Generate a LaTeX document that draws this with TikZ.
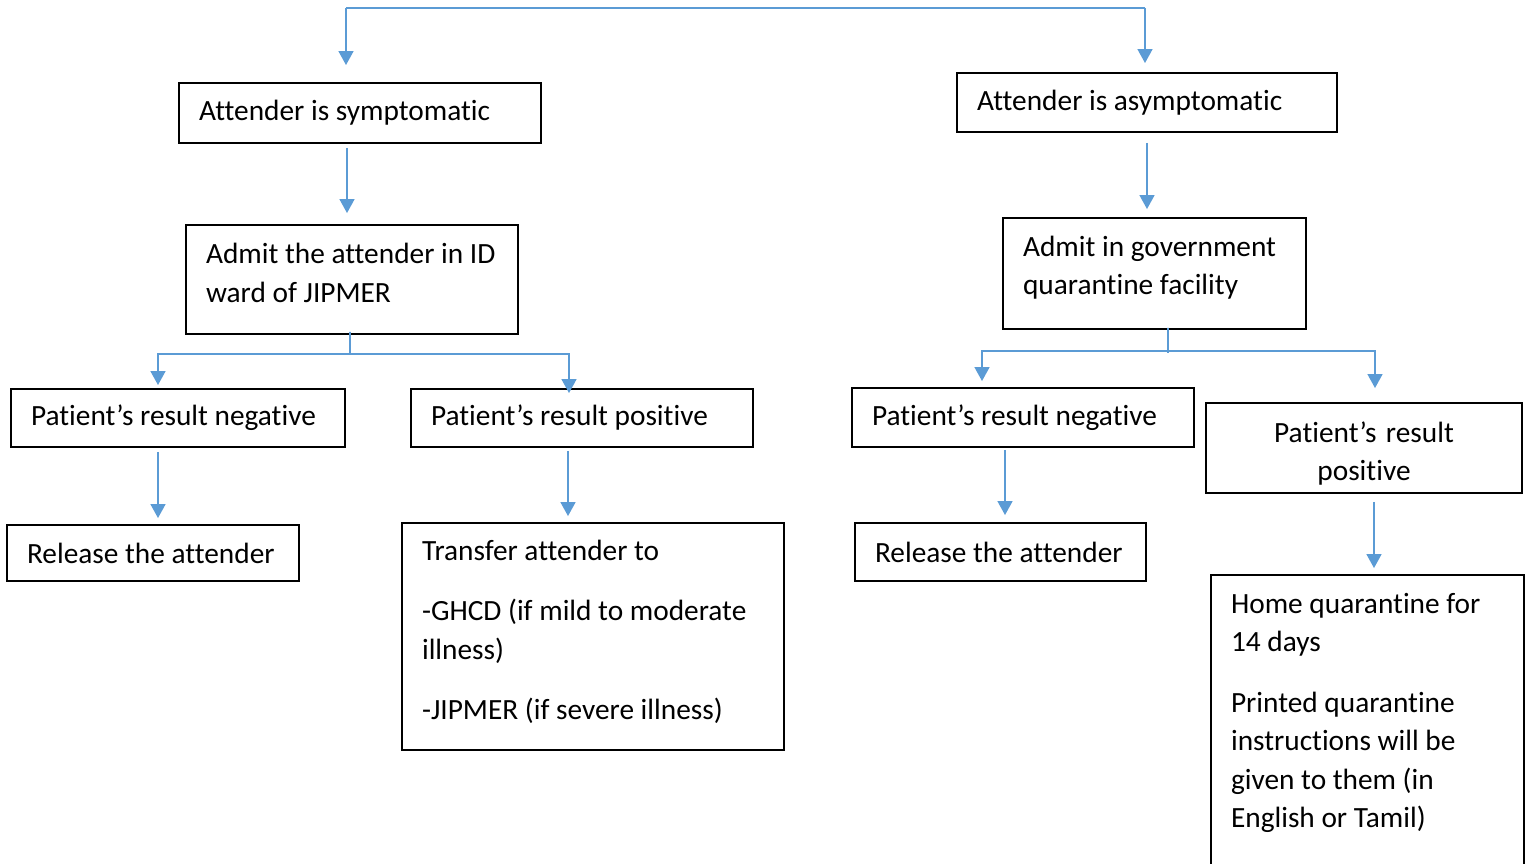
\documentclass[tikz,border=0pt]{standalone}
\usepackage{fontspec}
\setmainfont{Carlito}[Ligatures=CommonOff]
\usetikzlibrary{arrows.meta}
\definecolor{flowblue}{RGB}{91,155,213}
\begin{document}
\begin{tikzpicture}[x=0.02cm,y=-0.02cm,
    box/.style={draw=black,line width=1.1pt,inner xsep=0.4cm,inner ysep=0pt,align=left,
      font=\fontsize{16.7pt}{21.9pt}\selectfont,
      execute at begin node={\spaceskip=0pt\xspaceskip=0pt\relax}},
    conn/.style={draw=flowblue,line width=0.9pt},
    connarrow/.style={conn,-{Triangle[width=0.3cm,length=0.28cm]}}]
    \useasboundingbox (0,0) rectangle (1528,864);
    % boxes
    \node [box,text width=6.44cm,minimum height=1.2cm] (sym) at (360,113) {Attender is symptomatic};
    \node [box,text width=6.8cm,minimum height=1.18cm] (asym) at (1147,102.5) {Attender is asymptomatic};
    \node [box,text width=5.84cm,minimum height=2.18cm] (idward) at (352,279.5) {\mbox{Admit the attender in ID}\\ward of JIPMER\rule[-0.26cm]{0pt}{0.26cm}};
    \node [box,text width=5.26cm,minimum height=2.22cm] (gov) at (1154.5,273.5) {Admit in government\\quarantine facility\rule[-0.32cm]{0pt}{0.32cm}};
    \node [box,text width=5.88cm,minimum height=1.16cm] (negL) at (178,418) {\mbox{Patient’s result negative}};
    \node [box,text width=6.04cm,minimum height=1.16cm] (posL) at (582,418) {\mbox{Patient’s result positive}};
    \node [box,text width=6.04cm,minimum height=1.18cm] (negR) at (1023,417.5) {\mbox{Patient’s result negative}};
    \node [box,text width=5.52cm,minimum height=1.8cm,align=center] (posR) at (1364,448) {\rule{0pt}{0.64cm}Patient’s result\\positive};
    \node [box,text width=5.04cm,minimum height=1.12cm] (relL) at (153,553) {\mbox{Release the attender}};
    \node [box,text width=6.84cm,minimum height=4.54cm] (transfer) at (593,636.5) {Transfer attender to\\[0.44cm]\mbox{-GHCD (if mild to moderate}\\illness)\\[0.44cm]\mbox{-JIPMER (if severe illness)}\rule[-0.26cm]{0pt}{0.26cm}};
    \node [box,text width=5.02cm,minimum height=1.16cm] (relR) at (1000.5,552) {\mbox{Release the attender}};
    \node [box,text width=5.46cm,minimum height=6cm] (home) at (1367.5,725) {\mbox{Home quarantine for}\\14 days\\[0.44cm]Printed quarantine\\\mbox{instructions will be}\\given to them (in\\English or Tamil)\rule[-0.58cm]{0pt}{0.58cm}};
    % branch points
    \coordinate (topL) at (346,8);
    \coordinate (topR) at (1145,8);
    \coordinate (splitL) at (350,354);
    \coordinate (splitR) at (1168,351);
    % connectors
    \draw [conn] (topL) -- (topR);
    \draw [connarrow,shorten >=0.34cm] (topL) -- (topL |- sym.north);
    \draw [connarrow,shorten >=0.18cm] (topR) -- (topR |- asym.north);
    \draw [connarrow,shorten <=0.08cm,shorten >=0.22cm] ([xshift=-0.26cm]sym.south) -- ([xshift=-0.26cm]sym.south |- idward.north);
    \draw [connarrow,shorten <=0.2cm,shorten >=0.16cm] (asym.south) -- (asym.south |- gov.north);
    \draw [conn,shorten <=-0.06cm] ([xshift=-0.04cm]idward.south) -- (splitL);
    \draw [connarrow,shorten >=0.06cm] (splitL) -| ([xshift=-0.4cm]negL.north);
    \draw [connarrow] (splitL) -| ([xshift=-0.26cm,yshift=-0.1cm]posL.north);
    \draw [conn,shorten <=-0.04cm,shorten >=-0.04cm] ([xshift=0.27cm]gov.south) -- (splitR);
    \draw [connarrow,shorten >=0.12cm] (splitR) -| ([xshift=-0.82cm]negR.north);
    \draw [connarrow,shorten >=0.28cm] (splitR) -| ([xshift=0.22cm]posR.north);
    \draw [connarrow,shorten <=0.08cm,shorten >=0.12cm] ([xshift=-0.4cm]negL.south) -- ([xshift=-0.4cm]negL.south |- relL.north);
    \draw [connarrow,shorten <=0.06cm,shorten >=0.12cm] ([xshift=-0.28cm]posL.south) -- ([xshift=-0.28cm]posL.south |- transfer.north);
    \draw [connarrow,shorten <=0.04cm,shorten >=0.14cm] ([xshift=-0.36cm]negR.south) -- ([xshift=-0.36cm]negR.south |- relR.north);
    \draw [connarrow,shorten <=0.16cm,shorten >=0.12cm] ([xshift=0.2cm]posR.south) -- ([xshift=0.2cm]posR.south |- home.north);
\end{tikzpicture}
\end{document}
